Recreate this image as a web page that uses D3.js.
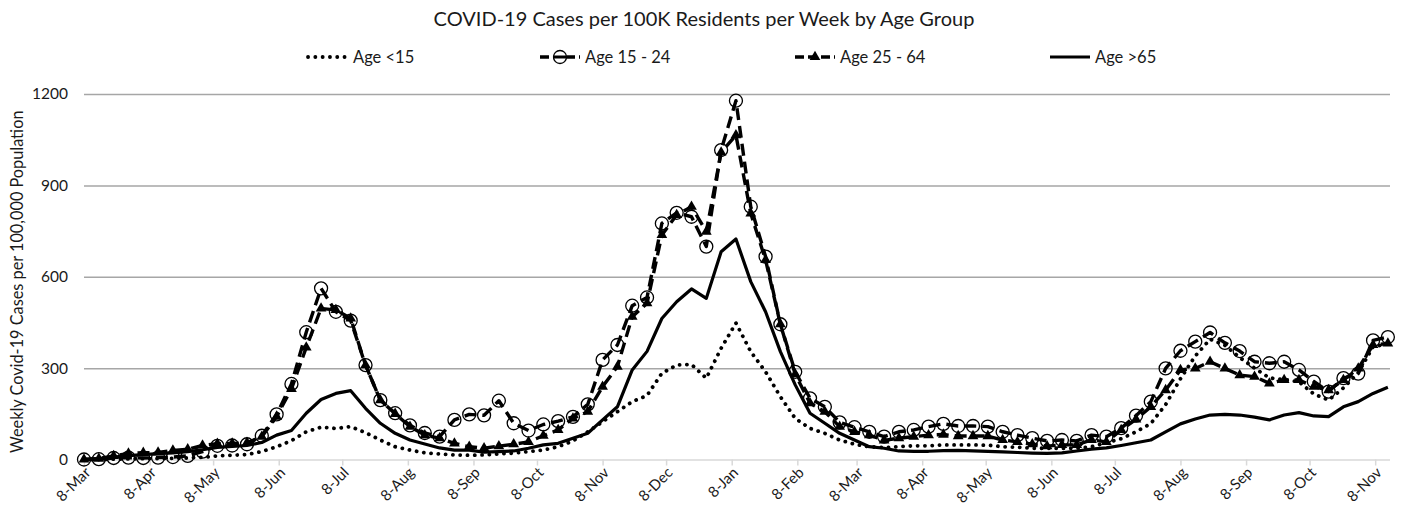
<!DOCTYPE html>
<html lang="en">
<head>
<meta charset="utf-8">
<style>
  body { margin: 0; background: #fff; }
  svg text { font-family: Lato, "Open Sans", sans-serif; fill: #1a1a1a; }
</style>
</head>
<body>
<svg id="chart" width="1408" height="515"></svg>
<script src="https://cdn.jsdelivr.net/npm/d3@7/dist/d3.min.js"></script>
<script>
// weekly values, first week starts 8-Mar-2020
var weekStart = new Date(2020, 2, 8);

var ageUnder15 = [0,0,1,2,3,3,4,5,7,12,14,16,26,42,62,91,106,102,108,88,
  64,42,31,22,18,15,14,15,18,21,26,31,42,61,91,124,157,190,210,283,
  310,312,267,365,448,354,288,206,135,102,86,64,50,42,39,42,45,45,48,48,
  48,47,42,40,37,37,37,37,42,55,68,91,118,180,265,340,395,375,335,300,
  268,262,255,215,195,235,285,370,380];

var age15to24 = [0,1,5,6,5,6,8,12,26,45,46,50,78,148,248,418,562,485,456,310,
  195,152,112,87,75,130,148,145,193,119,95,115,126,140,181,327,376,505,532,775,
  810,797,699,1016,1178,830,666,444,288,201,173,122,106,91,75,91,97,108,117,110,
  110,108,91,80,70,61,64,61,80,75,103,144,190,299,357,387,417,383,356,321,
  316,321,294,256,223,267,282,391,402];

var age25to64 = [0,3,12,20,22,23,30,34,46,52,53,55,75,141,232,368,496,491,463,310,
  195,150,108,80,70,53,42,37,44,50,58,78,97,135,157,239,305,469,513,737,
  803,830,748,1008,1065,808,655,444,280,185,157,108,91,80,63,70,75,80,82,77,
  77,77,64,58,50,44,48,48,64,58,97,132,173,228,294,299,321,299,277,272,
  250,261,261,239,228,261,299,376,381];

var ageOver65 = [0,2,8,13,16,19,22,26,32,40,43,46,56,80,95,152,197,217,226,168,
  119,86,64,51,38,31,31,24,26,28,37,48,53,70,86,130,173,294,355,463,
  518,560,529,682,724,584,485,354,245,152,119,86,64,42,37,28,27,27,29,30,
  28,27,25,23,21,20,22,28,34,38,46,55,64,91,117,133,146,148,146,139,
  130,146,154,143,141,173,190,217,237];

var monthLabels = ["8-Mar","8-Apr","8-May","8-Jun","8-Jul","8-Aug","8-Sep","8-Oct",
  "8-Nov","8-Dec","8-Jan","8-Feb","8-Mar","8-Apr","8-May","8-Jun","8-Jul","8-Aug",
  "8-Sep","8-Oct","8-Nov"];
var yTicks = [0, 300, 600, 900, 1200];
var seriesNames = ["Age <15", "Age 15 - 24", "Age 25 - 64", "Age >65"];

var weeks = ageUnder15.map(function(d, i){ return d3.timeDay.offset(weekStart, 7 * i); });
var monthTicks = monthLabels.map(function(d, i){ return d3.timeMonth.offset(weekStart, i); });

var svg = d3.select("#chart");
var plotLeft = 84, plotRight = 1390, plotTop = 94, plotBottom = 459.5;

var x = d3.scaleTime().domain([weekStart, new Date(2021, 10, 15)]).range([plotLeft, plotRight]);
var y = d3.scaleLinear().domain([0, 1200]).range([plotBottom, plotTop]);

// gridlines + y labels
var yAxis = svg.append("g")
  .attr("transform", "translate(" + plotLeft + ",0)")
  .call(d3.axisLeft(y).tickValues(yTicks).tickFormat(d3.format("d"))
    .tickSize(-(plotRight - plotLeft)).tickPadding(16));
yAxis.select(".domain").remove();
yAxis.selectAll("line")
  .attr("stroke", function(d){ return d == 0 ? "#d9d9d9" : "#a6a6a6"; })
  .attr("stroke-width", 1.5);
yAxis.selectAll("text").style("font-size", "15.5px").attr("fill", "#1a1a1a");

// x axis
var xAxis = svg.append("g")
  .attr("transform", "translate(0," + plotBottom + ")")
  .call(d3.axisBottom(x).tickValues(monthTicks)
    .tickFormat(function(d, i){ return monthLabels[i]; }).tickSize(6));
xAxis.select(".domain").remove();
xAxis.selectAll("line").attr("stroke", "#d9d9d9").attr("stroke-width", 1.5);
xAxis.selectAll("text")
  .style("font-size", "15px")
  .attr("fill", "#1a1a1a")
  .attr("text-anchor", "end")
  .attr("y", 0).attr("dy", 0)
  .attr("transform", "translate(7,14) rotate(-45)");

// titles
svg.append("text")
  .attr("x", 704).attr("y", 26)
  .attr("text-anchor", "middle")
  .style("font-size", "20px")
  .text("COVID-19 Cases per 100K Residents per Week by Age Group");

svg.append("text")
  .attr("transform", "translate(23," + ((plotTop + plotBottom) / 2 + 5) + ") rotate(-90)")
  .attr("text-anchor", "middle")
  .style("font-size", "16.3px")
  .text("Weekly Covid-19 Cases per 100,000 Population");

var line = d3.line()
  .x(function(d, i){ return x(weeks[i]); })
  .y(function(d){ return y(d); });

var styles = [
  {data: ageUnder15, dash: "0.1,7.2", cap: "round", width: 3.8, marker: null},
  {data: age15to24, dash: "12,6", cap: "butt", width: 3.4, marker: "circle"},
  {data: age25to64, dash: "12,6", cap: "butt", width: 3.4, marker: "triangle"},
  {data: ageOver65, dash: null, cap: "butt", width: 3.2, marker: null}
];

var tri = d3.symbol().type(d3.symbolTriangle).size(50);

styles.forEach(function(s){
  var g = svg.append("g");
  g.append("path")
    .attr("d", line(s.data))
    .attr("fill", "none")
    .attr("stroke", "#000")
    .attr("stroke-width", s.width)
    .attr("stroke-linecap", s.cap)
    .attr("stroke-linejoin", "round")
    .attr("stroke-dasharray", s.dash);
  if (s.marker == "circle") {
    g.selectAll("circle").data(s.data).enter().append("circle")
      .attr("cx", function(d, i){ return x(weeks[i]); })
      .attr("cy", function(d){ return y(d); })
      .attr("r", 6.5)
      .attr("fill", "none")
      .attr("stroke", "#000")
      .attr("stroke-width", 1.3);
  }
  if (s.marker == "triangle") {
    g.selectAll("path.tri").data(s.data).enter().append("path")
      .attr("class", "tri")
      .attr("d", tri)
      .attr("transform", function(d, i){ return "translate(" + x(weeks[i]) + "," + y(d) + ")"; })
      .attr("fill", "#000");
  }
});

// legend
var legX = [308, 540, 795, 1050];
var legend = svg.append("g");
styles.forEach(function(s, i){
  var lg = legend.append("g").attr("transform", "translate(" + legX[i] + ",57)");
  lg.append("line")
    .attr("x1", 0).attr("x2", 40).attr("y1", 0).attr("y2", 0)
    .attr("stroke", "#000")
    .attr("stroke-width", s.width)
    .attr("stroke-linecap", s.cap)
    .attr("stroke-dasharray", s.dash ? (s.marker ? "9,4" : s.dash) : null);
  if (s.marker == "circle") {
    lg.append("circle").attr("cx", 20).attr("cy", 0).attr("r", 6.5)
      .attr("fill", "#fff").attr("stroke", "#000").attr("stroke-width", 1.3);
    lg.append("line").attr("x1", 14).attr("x2", 26).attr("y1", 0).attr("y2", 0)
      .attr("stroke", "#000").attr("stroke-width", 3);
  }
  if (s.marker == "triangle") {
    lg.append("path").attr("d", tri).attr("transform", "translate(20,0)").attr("fill", "#000");
  }
  lg.append("text")
    .attr("x", 45).attr("y", 0).attr("dy", "0.35em")
    .style("font-size", "16.5px")
    .text(seriesNames[i]);
});
</script>
</body>
</html>
